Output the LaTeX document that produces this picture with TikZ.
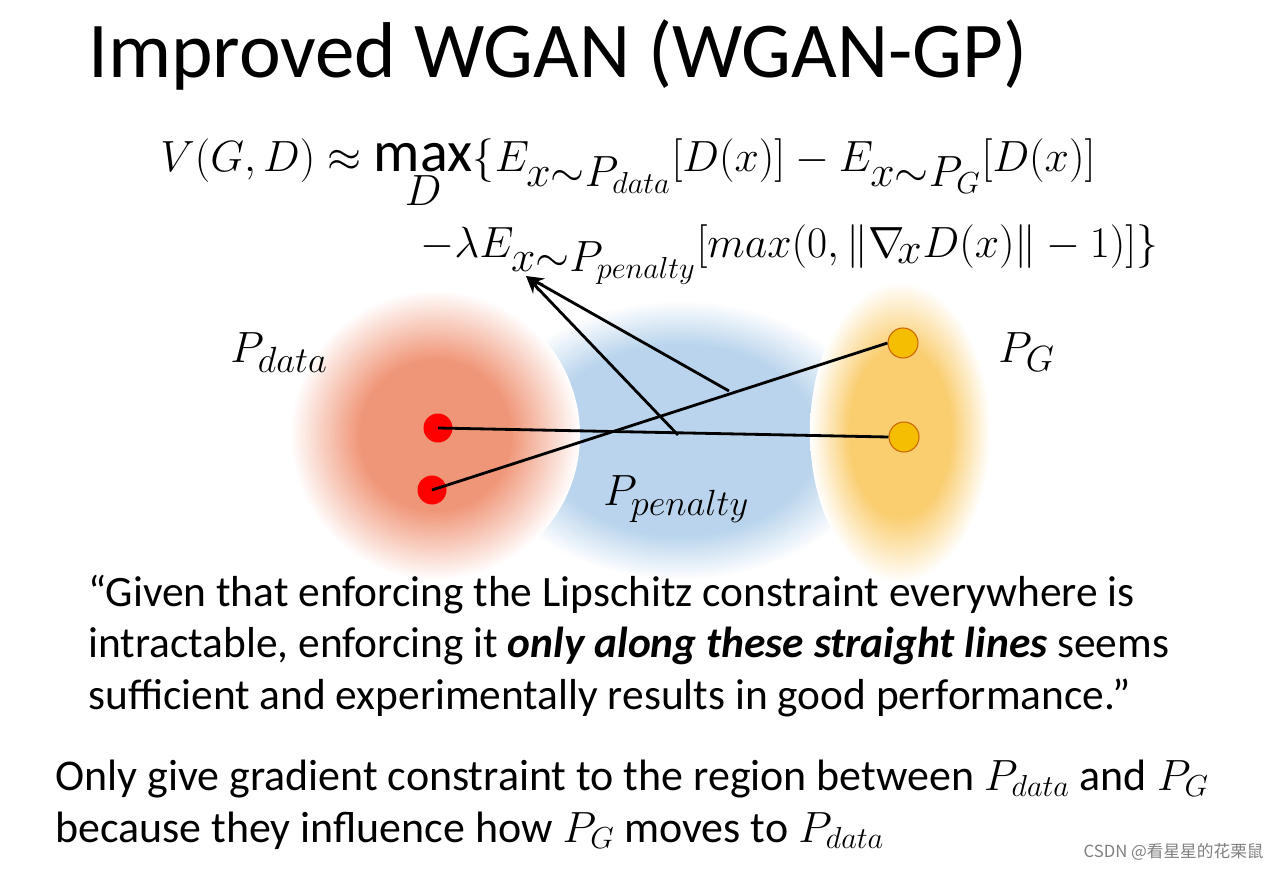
\documentclass[tikz,border=0pt]{standalone}
\usepackage{fontspec}
\setmainfont{Carlito}
\newfontfamily\cjk{Noto Sans CJK SC}
\usetikzlibrary{arrows.meta}
\definecolor{cO}{RGB}{240,150,120}
\definecolor{cB}{RGB}{185,212,236}
\definecolor{cY}{RGB}{250,205,110}
\pgfdeclareradialshading{blobO}{\pgfpoint{0bp}{0bp}}{color(0bp)=(cO);color(13bp)=(cO);color(25bp)=(white);color(50bp)=(white)}
\pgfdeclareradialshading{blobB}{\pgfpoint{0bp}{0bp}}{color(0bp)=(cB);color(17bp)=(cB);color(25bp)=(white);color(50bp)=(white)}
\pgfdeclareradialshading{blobY}{\pgfpoint{0bp}{0bp}}{color(0bp)=(cY);color(14bp)=(cY);color(25bp)=(white);color(50bp)=(white)}
\begin{document}
\begin{tikzpicture}[x=0.02cm,y=-0.02cm,
  txt/.style={anchor=base west,inner sep=0},
  gdot/.style={circle,fill={rgb,255:red,245;green,190;blue,0},draw=orange!80!black,line width=0.6pt,inner sep=0,minimum size=0.6cm},
  rdot/.style={circle,fill=red,inner sep=0,minimum size=0.58cm},
  seg/.style={line width=1.6pt},
  arr/.style={line width=1.6pt,-{Stealth[length=10pt,width=8pt]}}]
\useasboundingbox (0,0) rectangle (1280,868);
\fill[white] (0,0) rectangle (1280,868);
\shade[shading=blobB] (680,440) ellipse (200 and 140);
\shade[shading=blobO] (435,435) ellipse (145 and 145);
\shade[shading=blobY] (900,432) ellipse (90 and 150);
\node[txt,font=\fontsize{45}{50}\selectfont] (title) at (88,78) {Improved WGAN (WGAN-GP)};
\node[txt,font=\fontsize{33}{36}\selectfont] (f1) at (160,172) {$V(G,D)\approx \max\limits_{D}\{E_{x\sim P_{data}}[D(x)]-E_{x\sim P_G}[D(x)]$};
\node[txt,font=\fontsize{33}{36}\selectfont] (f2) at (420,257) {$-\lambda E_{x\sim P_{penalty}}[max(0,\|\nabla_{\!x} D(x)\|-1)]\}$};
\node[txt,font=\fontsize{31}{34}\selectfont] (pd) at (230,362) {$P_{data}$};
\node[txt,font=\fontsize{31}{34}\selectfont] (pg) at (998,362) {$P_G$};
\node[txt,font=\fontsize{30}{34}\selectfont] (pp) at (603,505) {$P_{penalty}$};
\node[rdot] (r1) at (438,428) {};
\node[rdot] (r2) at (432,490) {};
\node[gdot] (g1) at (903,343) {};
\node[gdot] (g2) at (904,437) {};
\coordinate (tip) at (526,276);
\draw[seg] (r1.center) -- (g2.west);
\draw[seg] (r2.center) -- (g1.west);
\coordinate (m1) at (678,435);
\coordinate (m2) at (729,391);
\draw[arr] (m1) -- (tip);
\draw[arr] (m2) -- (tip);
\node[txt,font=\fontsize{24.7}{28}\selectfont] (q1) at (88,606) {“Given that enforcing the Lipschitz constraint everywhere is};
\node[txt,font=\fontsize{24.7}{28}\selectfont] (q2) at (88,657) {intractable, enforcing it \textbf{\textit{only along these straight lines}} seems};
\node[txt,font=\fontsize{24.7}{28}\selectfont] (q3) at (88,709) {sufficient and experimentally results in good performance.”};
\node[txt,font=\fontsize{25}{28}\selectfont] (b1) at (55,790) {Only give gradient constraint to the region between $P_{data}$ and $P_G$};
\node[txt,font=\fontsize{25}{28}\selectfont] (b2) at (55,842) {because they influence how $P_G$ moves to $P_{data}$};
\node[anchor=base east,inner sep=0,text=gray,font=\cjk\fontsize{9.5}{11}\selectfont] (wm) at (1264,857) {CSDN @看星星的花栗鼠};
\end{tikzpicture}
\end{document}
